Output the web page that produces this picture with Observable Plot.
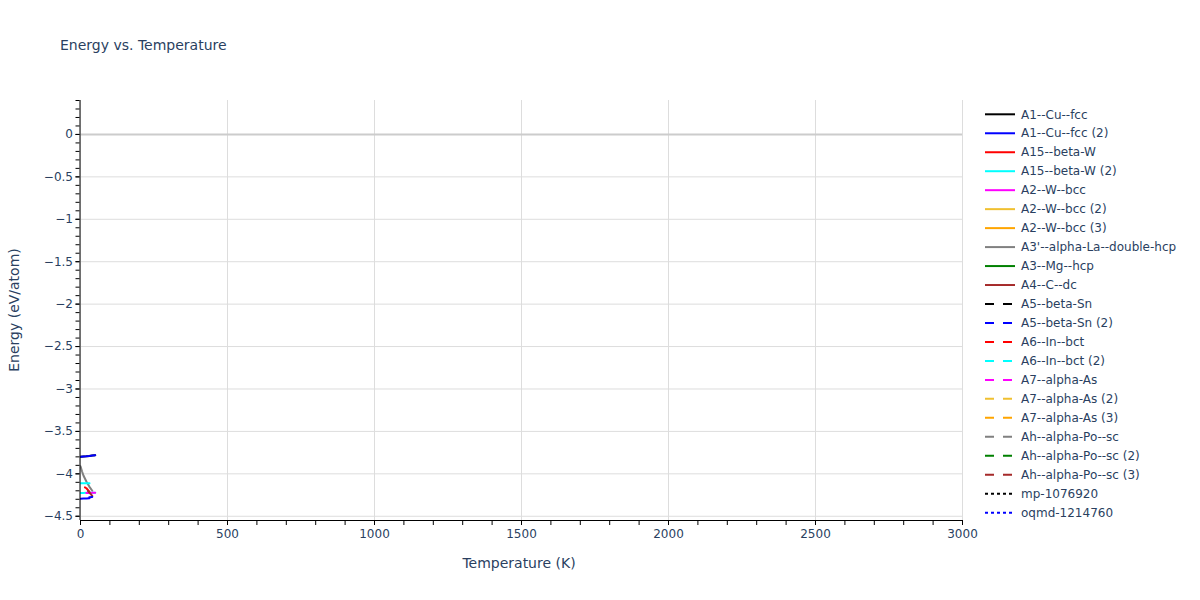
<!DOCTYPE html>
<html><head><meta charset="utf-8">
<script src="https://cdn.jsdelivr.net/npm/d3@7"></script>
<script src="https://cdn.jsdelivr.net/npm/@observablehq/plot@0.6"></script>
<style>
body{margin:0;background:#fff;font-family:"DejaVu Sans",sans-serif}
#wrap{position:relative;width:1200px;height:600px;overflow:hidden}
.t{position:absolute;color:#2a3f5f;white-space:nowrap;line-height:1}
</style></head>
<body><div id="wrap"></div>
<script>
// ---- legend / series definitions ----
const seriesNames = ["A1--Cu--fcc","A1--Cu--fcc (2)","A15--beta-W","A15--beta-W (2)","A2--W--bcc","A2--W--bcc (2)","A2--W--bcc (3)","A3'--alpha-La--double-hcp","A3--Mg--hcp","A4--C--dc","A5--beta-Sn","A5--beta-Sn (2)","A6--In--bct","A6--In--bct (2)","A7--alpha-As","A7--alpha-As (2)","A7--alpha-As (3)","Ah--alpha-Po--sc","Ah--alpha-Po--sc (2)","Ah--alpha-Po--sc (3)","mp-1076920","oqmd-1214760"];
const seriesColors = ["#000000","#0000ff","#ff0000","#00ffff","#ff00ff","#f0c030","#ffa500","#808080","#008000","#a52a2a","#000000","#0000ff","#ff0000","#00ffff","#ff00ff","#f0c030","#ffa500","#808080","#008000","#a52a2a","#000000","#0000ff"];
const seriesDash = ["solid","solid","solid","solid","solid","solid","solid","solid","solid","solid","dash","dash","dash","dash","dash","dash","dash","dash","dash","dash","dot","dot"];

// ---- data (Temperature K, Energy eV/atom) ----
const tCu = [0, 10, 20, 30, 40, 50];
const eCu = [-3.800, -3.797, -3.794, -3.790, -3.785, -3.780];
const eCu2 = [-3.800, -3.797, -3.794, -3.790, -3.785, -3.780];
const tLa = [0, 5, 10, 20, 30, 40];
const eLa = [-3.91, -3.97, -4.02, -4.09, -4.15, -4.20];
const tBetaW2 = [0, 10, 20, 30, 40, 50];
const eBetaW2 = [-4.225, -4.225, -4.224, -4.223, -4.222, -4.222];
const tBcc = [20, 30, 40, 50];
const eBcc = [-4.226, -4.225, -4.224, -4.223];
const tIn = [15, 20, 25, 30];
const eIn = [-4.16, -4.17, -4.19, -4.21];
const tIn2 = [0, 10, 20, 30, 40, 50];
const eIn2 = [-4.112, -4.112, -4.111, -4.110, -4.110, -4.109];
const tPo3 = [25, 30, 35, 40];
const ePo3 = [-4.20, -4.22, -4.24, -4.26];
const tSn2 = [0, 10, 20, 30, 40, 50];
const eSn2 = [-4.295, -4.292, -4.290, -4.287, -4.285, -4.282];
const tOqmd = [30, 40, 50];
const eOqmd = [-4.275, -4.272, -4.270];

// ---- axes ----
const xMajor = [0, 500, 1000, 1500, 2000, 2500, 3000];
const xMinor = d3.range(0, 3001, 100);
const yMajor = [0, -0.5, -1, -1.5, -2, -2.5, -3, -3.5, -4, -4.5];
const yMinor = d3.range(-45, 5).map(v => v / 10);
const xDomain = [0, 3000];
const yDomain = [-4.55, 0.4];

const seriesData = [
  ["A1--Cu--fcc", tCu, eCu],
  ["A1--Cu--fcc (2)", tCu, eCu2],
  ["A3'--alpha-La--double-hcp", tLa, eLa],
  ["A15--beta-W (2)", tBetaW2, eBetaW2],
  ["A2--W--bcc", tBcc, eBcc],
  ["A6--In--bct", tIn, eIn],
  ["A6--In--bct (2)", tIn2, eIn2],
  ["Ah--alpha-Po--sc (3)", tPo3, ePo3],
  ["A5--beta-Sn (2)", tSn2, eSn2],
  ["oqmd-1214760", tOqmd, eOqmd]
];
const dashArray = {solid: null, dash: "9,9", dot: "3,3"};
const FONT = '"DejaVu Sans", Verdana, sans-serif';

const lineMarks = seriesData.map(([name, ts, es]) => {
  const i = seriesNames.indexOf(name);
  const rows = ts.map((t, k) => ({T: t, E: es[k]}));
  return Plot.line(rows, {x: "T", y: "E", stroke: seriesColors[i], strokeWidth: 2,
    strokeDasharray: dashArray[seriesDash[i]], clip: true});
});

const chart = Plot.plot({
  width: 1200, height: 600,
  marginLeft: 80, marginRight: 238, marginTop: 100, marginBottom: 80,
  style: {fontFamily: FONT, fontSize: "12px", background: "transparent"},
  x: {domain: xDomain},
  y: {domain: yDomain},
  marks: [
    Plot.gridX(xMajor, {stroke: "#dddddd", strokeOpacity: 1}),
    Plot.gridY(yMajor.filter(v => v !== 0), {stroke: "#dddddd", strokeOpacity: 1}),
    Plot.ruleY([0], {stroke: "#cccccc", strokeWidth: 2}),
    ...lineMarks,
    Plot.ruleX([xDomain[0]], {stroke: "#000", strokeWidth: 1, dx: -0.5}),
    Plot.ruleY([yDomain[0]], {stroke: "#000", strokeWidth: 1}),
    Plot.axisX({ticks: xMinor, tickSize: 5, tickFormat: () => "", stroke: "#000", label: null}),
    Plot.axisX({ticks: xMajor, tickSize: 5, tickPadding: 4, fontSize: 12, fill: "#2a3f5f", stroke: "#000", label: null, tickFormat: d3.format("d")}),
    Plot.axisY({ticks: yMinor, tickSize: 4, tickFormat: () => "", stroke: "#000", label: null, dx: -0.5}),
    Plot.axisY({ticks: yMajor, tickSize: 4, tickPadding: 3, fontSize: 12, fill: "#2a3f5f", stroke: "#000", label: null, dx: -0.5, tickFormat: d3.format("~g")})
  ]
});

const wrap = document.getElementById("wrap");
chart.style.position = "absolute"; chart.style.left = "0"; chart.style.top = "0";
wrap.appendChild(chart);

function addText(txt, css) {
  const d = document.createElement("div");
  d.className = "t"; d.textContent = txt;
  Object.assign(d.style, css);
  wrap.appendChild(d);
  return d;
}
addText("Energy vs. Temperature", {left: "60px", top: "38px", fontSize: "14px"});
addText("Temperature (K)", {left: "519px", top: "556px", fontSize: "14px", transform: "translateX(-50%)"});
addText("Energy (eV/atom)", {left: "14px", top: "310px", fontSize: "14px", transform: "translate(-50%,-50%) rotate(-90deg)"});

// legend
const leg = d3.select(wrap).append("svg")
  .attr("width", 220).attr("height", 440)
  .style("position", "absolute").style("left", "980px").style("top", "100px");
seriesNames.forEach((name, i) => {
  const y = 14.3 + i * 18.97;
  leg.append("line").attr("x1", 5).attr("x2", 35).attr("y1", y).attr("y2", y)
    .attr("stroke", seriesColors[i]).attr("stroke-width", 2)
    .attr("stroke-dasharray", dashArray[seriesDash[i]]);
  leg.append("text").attr("x", 41).attr("y", y).attr("dy", "0.35em")
    .attr("fill", "#2a3f5f").attr("font-size", 12)
    .attr("font-family", FONT).text(name);
});
</script>
</body></html>
